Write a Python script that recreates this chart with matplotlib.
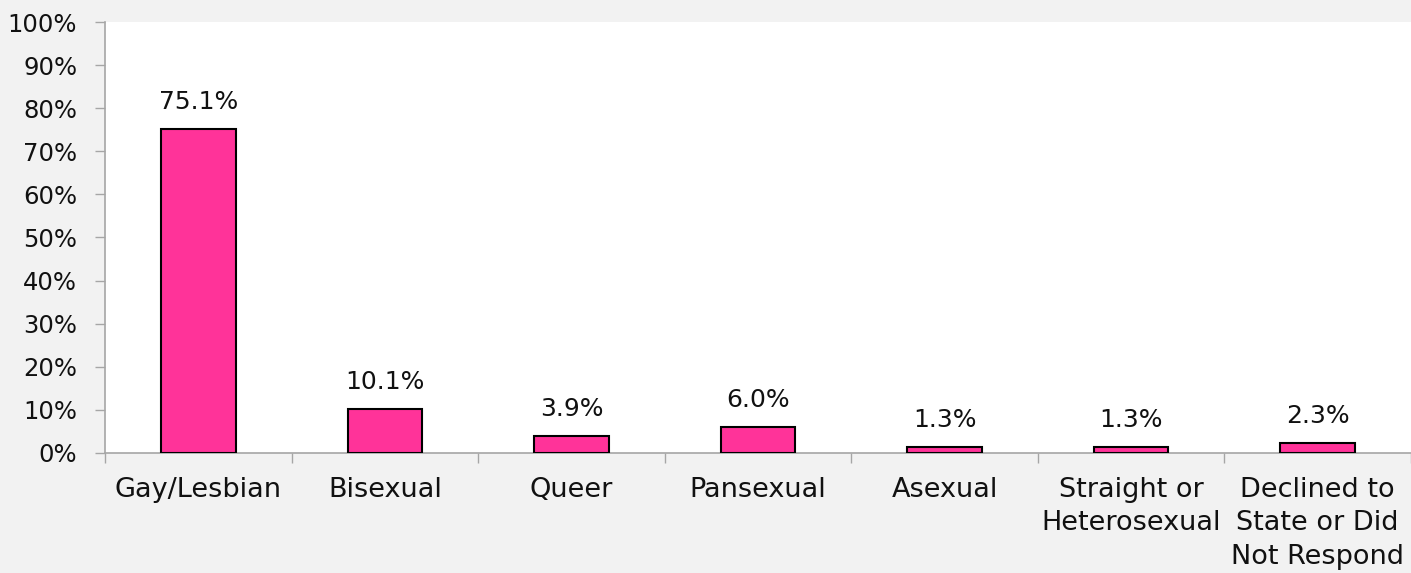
import numpy as np
import matplotlib.pyplot as plt
from matplotlib.ticker import PercentFormatter, FixedLocator

# Datos
categorias = ['Gay/Lesbian', 'Bisexual', 'Queer', 'Pansexual', 'Asexual',
              'Straight or\nHeterosexual', 'Declined to\nState or Did\nNot Respond']
porcentajes = [75.1, 10.1, 3.9, 6.0, 1.3, 1.3, 2.3]
yticks = [0, 10, 20, 30, 40, 50, 60, 70, 80, 90, 100]

plt.rcParams['font.family'] = ['DejaVu Sans']

W, H = 1411, 573
fig = plt.figure(figsize=(W / 100, H / 100), dpi=100, facecolor='#f2f2f2')
ax = fig.add_axes([105 / W, (H - 453) / H, (W - 105) / W, (453 - 22) / H])
ax.set_facecolor('white')

x = np.arange(len(categorias))
bars = ax.bar(x, porcentajes, width=0.4, color='#ff3399', edgecolor='black', linewidth=1.5, zorder=3)

# Etiquetas de valores sobre las barras
for xi, v in zip(x, porcentajes):
    ax.annotate(f'{v:.1f}%', (xi, v), xytext=(0, 11), textcoords='offset points',
                ha='center', va='bottom', fontsize=18, color='#111111')

ax.set_ylim(0, 100)
ax.set_xlim(-0.5, len(categorias) - 0.5)
ax.set_yticks(yticks)
ax.yaxis.set_major_formatter(PercentFormatter(decimals=0))
ax.tick_params(axis='y', length=7, width=1, color='#a6a6a6', pad=13, labelsize=17.5, labelcolor='#111111')

# Ticks en los limites de categoria
ax.set_xticks(x)
ax.set_xticklabels(categorias, fontsize=19.5, color='#111111', linespacing=1.38, va='top')
ax.tick_params(axis='x', which='major', length=0, pad=17)
ax.xaxis.set_minor_locator(FixedLocator(np.arange(len(categorias) + 1) - 0.5))
ax.tick_params(axis='x', which='minor', length=7, width=1, color='#a6a6a6')

for s in ['top', 'right']:
    ax.spines[s].set_visible(False)
for s in ['left', 'bottom']:
    ax.spines[s].set_color('#a6a6a6')
    ax.spines[s].set_linewidth(1.2)

fig.savefig('out.png', dpi=100, facecolor=fig.get_facecolor())
